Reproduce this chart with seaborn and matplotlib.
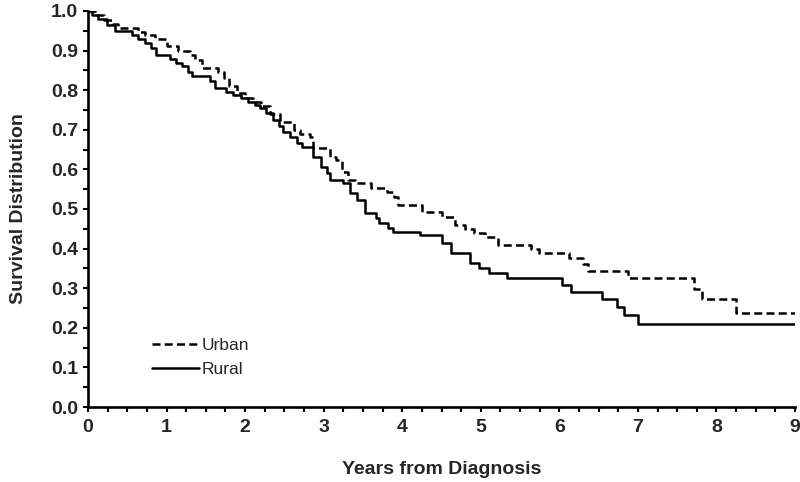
import seaborn as sns
import matplotlib.pyplot as plt
from matplotlib.ticker import MultipleLocator
import pandas as pd

# step points (time of drop, survival after drop)
urban_t = [0, 0.09, 0.2, 0.3, 0.38, 0.64, 0.72, 0.85, 1.0, 1.15, 1.3, 1.36, 1.45, 1.66, 1.73,
           1.8, 1.9, 2.0, 2.1, 2.2, 2.32, 2.45, 2.62, 2.7, 2.82, 2.87, 3.08, 3.16, 3.23, 3.31,
           3.4, 3.6, 3.8, 3.9, 3.95, 4.25, 4.5, 4.67, 4.8, 4.92, 5.05, 5.22, 5.64, 5.74, 6.12,
           6.3, 6.37, 6.87, 7.72, 7.82, 8.25, 9.0]
urban_s = [1.0, 0.99, 0.977, 0.968, 0.957, 0.948, 0.94, 0.93, 0.912, 0.9, 0.89, 0.876, 0.856, 0.847, 0.83,
           0.81, 0.792, 0.78, 0.77, 0.76, 0.741, 0.72, 0.70, 0.69, 0.683, 0.653, 0.632, 0.624, 0.594, 0.573,
           0.565, 0.552, 0.544, 0.531, 0.51, 0.493, 0.48, 0.46, 0.45, 0.439, 0.43, 0.41, 0.4, 0.388, 0.375,
           0.36, 0.344, 0.325, 0.298, 0.272, 0.237, 0.237]

rural_t = [0, 0.05, 0.13, 0.24, 0.34, 0.56, 0.64, 0.72, 0.8, 0.87, 1.05, 1.12, 1.2, 1.27, 1.32,
           1.55, 1.62, 1.76, 1.85, 1.95, 2.04, 2.12, 2.19, 2.27, 2.36, 2.43, 2.48, 2.57, 2.66, 2.72,
           2.86, 2.97, 3.04, 3.08, 3.25, 3.33, 3.42, 3.52, 3.67, 3.71, 3.82, 3.88, 4.22, 4.5, 4.62,
           4.86, 4.98, 5.1, 5.33, 6.03, 6.15, 6.54, 6.73, 6.82, 7.0, 9.0]
rural_s = [1.0, 0.99, 0.98, 0.965, 0.95, 0.94, 0.93, 0.918, 0.906, 0.89, 0.88, 0.868, 0.86, 0.847, 0.835,
           0.822, 0.805, 0.796, 0.788, 0.781, 0.771, 0.763, 0.755, 0.742, 0.725, 0.71, 0.695, 0.683, 0.666, 0.657,
           0.632, 0.607, 0.59, 0.573, 0.565, 0.54, 0.523, 0.489, 0.476, 0.464, 0.451, 0.443, 0.434, 0.413, 0.388,
           0.363, 0.35, 0.338, 0.325, 0.308, 0.29, 0.273, 0.253, 0.232, 0.21, 0.21]

urban_df = pd.DataFrame({"Years": urban_t, "Survival": urban_s})
rural_df = pd.DataFrame({"Years": rural_t, "Survival": rural_s})

sns.set_style("ticks")
plt.rcParams['font.family'] = ['Liberation Sans', 'DejaVu Sans']

fig = plt.figure(figsize=(8, 4.82), dpi=100)
ax = fig.add_axes([0.11, 0.1556, 0.88375, 0.8216])

sns.lineplot(x="Years", y="Survival", data=urban_df, ax=ax, color="black", linewidth=1.8,
             drawstyle="steps-post", estimator=None, sort=False, label="Urban",
             linestyle=(0, (3.2, 1.7)))
sns.lineplot(x="Years", y="Survival", data=rural_df, ax=ax, color="black", linewidth=1.8,
             drawstyle="steps-post", estimator=None, sort=False, label="Rural")

ax.set_xlim(0, 9)
ax.set_ylim(0, 1.0)
ax.xaxis.set_major_locator(MultipleLocator(1))
ax.xaxis.set_minor_locator(MultipleLocator(0.25))
ax.yaxis.set_major_locator(MultipleLocator(0.1))
ax.yaxis.set_minor_locator(MultipleLocator(0.05))
ax.yaxis.set_major_formatter(plt.FormatStrFormatter("%.1f"))
ax.tick_params(which="both", direction="out", length=3.6, width=1.5, color="black")
ax.tick_params(axis="x", which="major", pad=5)
for lab in ax.get_xticklabels() + ax.get_yticklabels():
    lab.set_fontweight("bold")
    lab.set_fontsize(14)

for side in ["top", "right"]:
    ax.spines[side].set_visible(False)
for side in ["left", "bottom"]:
    ax.spines[side].set_linewidth(1.9)
    ax.spines[side].set_color("black")

ax.set_xlabel("Years from Diagnosis", fontsize=14, fontweight="bold", labelpad=18)
ax.set_ylabel("Survival Distribution", fontsize=14, fontweight="bold", labelpad=17)

ax.legend(loc="center left", bbox_to_anchor=(0.068, 0.125), frameon=False, fontsize=12.5,
          handlelength=2.7, handletextpad=0.2, labelspacing=0.55)

fig.savefig("out.png", dpi=100)
